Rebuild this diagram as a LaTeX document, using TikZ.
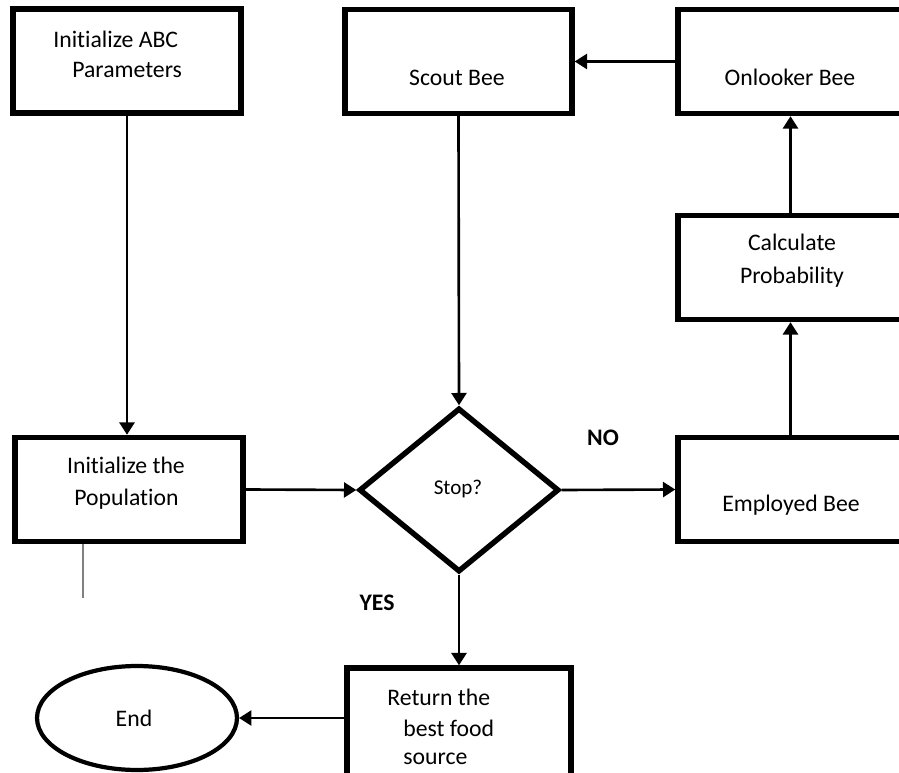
\documentclass[tikz,border=0pt]{standalone}
\usepackage{fontspec}
\setmainfont{Carlito}[Ligatures=NoCommon]
\usetikzlibrary{shapes.geometric,arrows.meta}
\begin{document}
\begin{tikzpicture}[x=0.02cm,y=-0.02cm,
  box/.style={draw, rectangle, line width=3.1pt, inner sep=0pt, minimum height=2.08cm},
  txt/.style={font=\fontsize{13.5}{18}\selectfont, inner sep=0pt},
  small/.style={font=\fontsize{12}{15}\selectfont, inner sep=0pt},
  tag/.style={font=\bfseries\fontsize{13.5}{18}\selectfont, inner sep=0pt},
  conn/.style={line width=1.5pt, -{Triangle[length=7pt,width=8.5pt]}},
]
\clip (0,0) rectangle (899,773);

% process boxes
\node[box, minimum width=4.56cm] (init)  at (127,61)    {};
\node[box, minimum width=4.54cm] (scout) at (458.5,61.5) {};
\node[box, minimum width=4.50cm] (onl)   at (790.5,61.5) {};
\node[box, minimum width=4.50cm] (calc)  at (790.5,267.5) {};
\node[box, minimum width=4.56cm] (pop)   at (129,489.5) {};
\node[box, minimum width=4.50cm] (emp)   at (790.5,489.5) {};
\node[box, minimum width=4.48cm, minimum height=2.2cm] (ret) at (459,723) {};

% decision and terminal
\node[draw, diamond, line width=3.1pt, inner sep=0pt, aspect=1.22,
      minimum width=4cm, minimum height=3.28cm] (stop) at (459,490) {};
\node[draw, ellipse, line width=2.4pt, inner sep=0pt,
      minimum width=4cm, minimum height=2.08cm] (fin) at (137,718) {};

% box texts
\node[txt, anchor=base west] (initA) at (53,48)  {Initialize ABC};
\node[txt, anchor=base west] (initB) at (72,78)  {Parameters};
\node[txt, anchor=base] (scoutT) at (457,86)   {Scout Bee};
\node[txt, anchor=base] (onlT)   at (790,86)   {Onlooker Bee};
\node[txt, anchor=base] (calcA)  at (792,251)  {Calculate};
\node[txt, anchor=base] (calcB)  at (792,284)  {Probability};
\node[txt, anchor=base] (popA)   at (126,473)  {Initialize the};
\node[txt, anchor=base] (popB)   at (126.5,505) {Population};
\node[txt, anchor=base] (empT)   at (791,511)  {Employed Bee};
\node[small, anchor=base] (stopT) at (458,494) {Stop?};
\node[txt, anchor=base west] (retA) at (387,705) {Return the};
\node[txt, anchor=base west] (retB) at (403,736) {best food};
\node[txt, anchor=base west] (retC) at (403,764) {source};
\node[txt, anchor=base] (finT) at (134,726) {End};
\node[tag, anchor=base] (no)  at (603,445) {NO};
\node[tag, anchor=base] (yes) at (377,610) {YES};

% connectors
\draw[conn] (init.south) -- (init.south |- pop.north);
\draw[conn] (pop.east) -- (stop.west);
\draw[conn] (scout.south) -- (stop.north);
\draw[conn] (stop.east) -- (emp.west);
\draw[conn] (stop.south) -- (stop.south |- ret.north);
\draw[conn] (ret.west |- fin.east) -- (fin.east);
\draw[conn] (emp.north) -- (calc.south);
\draw[conn] (calc.north) -- (onl.south);
\draw[conn] (onl.west) -- (scout.east);

% short stray stroke under the population box
\coordinate (tail) at (83,598);
\draw[gray, line width=0.9pt] (pop.south -| tail) -- (tail);
\end{tikzpicture}
\end{document}
